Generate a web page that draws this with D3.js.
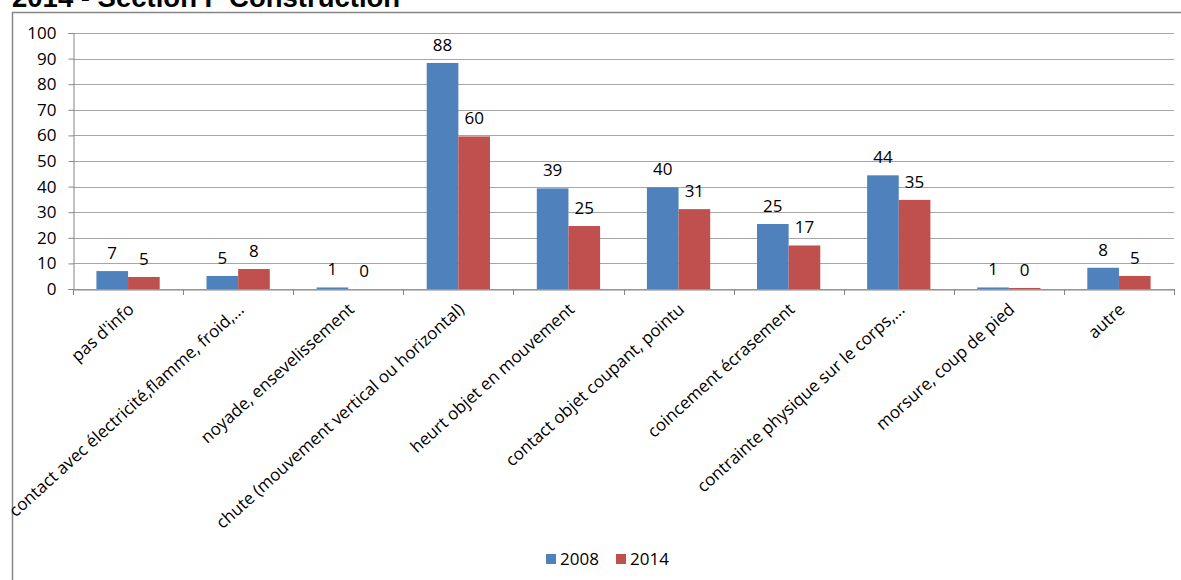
<!DOCTYPE html>
<html><head><meta charset="utf-8">
<script src="https://cdn.jsdelivr.net/npm/d3@7"></script>
<style>body{margin:0;background:#fff}svg{display:block}</style>
</head><body>
<script>
const categories = ["pas d'info","contact avec électricité,flamme, froid,...","noyade, ensevelissement","chute (mouvement vertical ou horizontal)","heurt objet en mouvement","contact objet coupant, pointu","coincement écrasement","contrainte physique sur le corps,...","morsure, coup de pied","autre"];
const seriesNames = ["2008","2014"];
const values2008 = [7.0, 5.1, 0.6, 88.3, 39.3, 39.7, 25.4, 44.4, 0.6, 8.3];
const values2014 = [4.7, 7.8, 0.0, 59.6, 24.6, 31.2, 17.0, 34.8, 0.4, 5.1];
const yTicks = [0,10,20,30,40,50,60,70,80,90,100];
const colors = ["#4F81BD","#C0504D"];

const W=1181,H=580;
const svg=d3.select("body").append("svg").attr("width",W).attr("height",H);
const font="'Open Sans', Lato, sans-serif";

// frame
svg.append("rect").attr("x",12.5).attr("y",12.5).attr("width",W+10).attr("height",H+10)
  .attr("fill","none").attr("stroke","#868686").attr("stroke-width",1.5);
// title (partially clipped at top, as in the reference)
svg.append("text").attr("x",12).attr("y",7).attr("font-family","'Liberation Sans', Arial, sans-serif")
  .attr("font-weight","bold").attr("font-size",27.5).attr("fill","#000").text("2014 - Section F  Construction");

const x0=d3.scaleBand().domain(categories).range([73,1174]).paddingInner(0).paddingOuter(0);
const x1=d3.scaleBand().domain(seriesNames).range([0,x0.bandwidth()]).paddingInner(0).paddingOuter(0.74);
const y=d3.scaleLinear().domain([0,100]).range([289,33]);

// gridlines
svg.append("g").selectAll("line").data(yTicks).join("line")
  .attr("x1",73).attr("x2",1174).attr("y1",d=>Math.round(y(d))+0.5).attr("y2",d=>Math.round(y(d))+0.5)
  .attr("stroke","#a6a6a6").attr("stroke-width",1);

// y axis
const ya=svg.append("g").attr("transform","translate(73.5,0)")
  .call(d3.axisLeft(y).tickValues(yTicks).tickSize(5).tickPadding(12));
ya.select(".domain").attr("stroke","#868686");
ya.selectAll(".tick line").attr("stroke","#868686");
ya.selectAll(".tick text").attr("font-family",font).attr("font-size",17).attr("fill","#000");

// bars
const data=categories.map((c,i)=>({c,vals:[values2008[i],values2014[i]]}));
const g=svg.append("g").selectAll("g").data(data).join("g").attr("transform",d=>`translate(${x0(d.c)},0)`);
g.selectAll("rect").data(d=>d.vals.map((v,j)=>({v,s:seriesNames[j],j}))).join("rect")
  .attr("x",d=>x1(d.s)).attr("width",x1.bandwidth())
  .attr("y",d=>y(d.v)).attr("height",d=>y(0)-y(d.v)).attr("fill",d=>colors[d.j]);
g.selectAll("text").data(d=>d.vals.map((v,j)=>({v,s:seriesNames[j],j}))).join("text")
  .attr("x",d=>x1(d.s)+x1.bandwidth()/2).attr("y",d=>y(d.v)-12)
  .attr("text-anchor","middle").attr("font-family",font).attr("font-size",17).attr("fill","#000")
  .text(d=>d3.format(".0f")(d.v));

// x axis
const xa=svg.append("g").attr("transform","translate(0,289.5)")
  .call(d3.axisBottom(x0).tickSize(0).tickFormat(""));
xa.select(".domain").attr("stroke","#868686");
svg.append("g").selectAll("line").data(d3.range(categories.length+1)).join("line")
  .attr("x1",i=>Math.round(73+i*x0.step())+0.5).attr("x2",i=>Math.round(73+i*x0.step())+0.5)
  .attr("y1",289).attr("y2",295).attr("stroke","#868686");
svg.append("g").selectAll("text").data(categories).join("text")
  .attr("transform",d=>`translate(${x0(d)+x0.bandwidth()/2+7},311) rotate(-42)`)
  .attr("text-anchor","end").attr("font-family",font).attr("font-size",17).attr("fill","#000")
  .text(d=>d);

// legend
const lg=svg.append("g").attr("transform","translate(546,554)");
seriesNames.forEach((s,i)=>{
  const gx=i*70;
  lg.append("rect").attr("x",gx).attr("y",0).attr("width",10).attr("height",10).attr("fill",colors[i]);
  lg.append("text").attr("x",gx+14).attr("y",11).attr("font-family",font).attr("font-size",17).attr("fill","#000").text(s);
});
</script>
</body></html>
